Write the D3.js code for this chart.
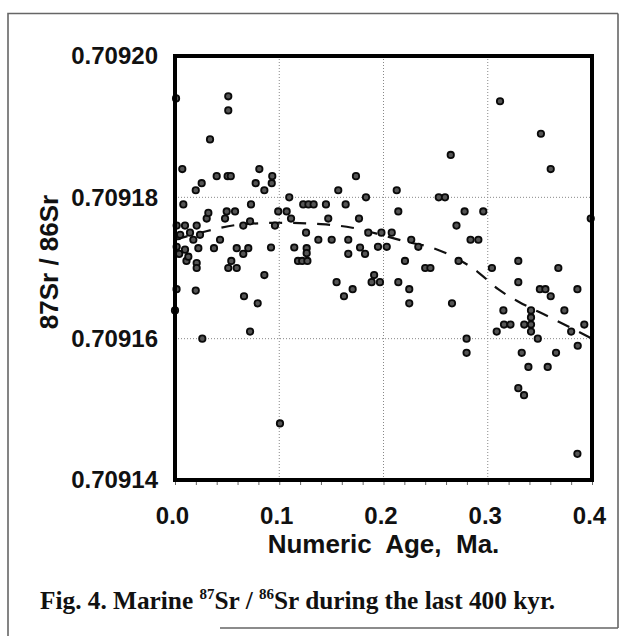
<!DOCTYPE html>
<html>
<head>
<meta charset="utf-8">
<script src="https://cdn.jsdelivr.net/npm/d3@7"></script>
<style>
  html, body { margin: 0; padding: 0; background: #fff; }
  svg { display: block; }
</style>
</head>
<body>
<svg id="chart" width="620" height="636"></svg>
<script>
// ---- data ----
const ages = [
  0.001, 0.000, 0.0015, 0.0016, 0.003, 0.0016, 0.004, 0.005, 0.007, 0.008,
  0.0096, 0.0096, 0.011, 0.0128, 0.0144, 0.0176, 0.0199, 0.0199, 0.0208, 0.0208,
  0.0208, 0.0224, 0.024, 0.0256, 0.0262,
  0.0304, 0.032, 0.0336, 0.0374, 0.040, 0.0432, 0.048, 0.0496, 0.0511, 0.0511,
  0.0505, 0.0535, 0.0511, 0.0540, 0.0576, 0.0592, 0.0592, 0.0655, 0.0655, 0.0662,
  0.0703, 0.072, 0.0729, 0.072, 0.0774, 0.0793, 0.0809, 0.0857, 0.0857, 0.0921,
  0.0928, 0.0933, 0.0959, 0.099, 0.1007,
  0.1071, 0.1096, 0.1113, 0.1144, 0.118, 0.122, 0.127, 0.1263, 0.1263, 0.1257,
  0.123, 0.128, 0.133, 0.1375, 0.1448, 0.147, 0.1503, 0.155, 0.1566, 0.1621,
  0.1637, 0.1662, 0.1662, 0.1704, 0.1736, 0.1765, 0.1775, 0.1823, 0.1832, 0.1854,
  0.1886, 0.191, 0.1966, 0.1947, 0.2031, 0.198,
  0.2079, 0.2127, 0.2142, 0.2142, 0.2206, 0.2247, 0.2247, 0.2266, 0.2334, 0.240,
  0.245, 0.253, 0.259, 0.2645, 0.2657, 0.270, 0.272, 0.2778, 0.2797, 0.2797,
  0.2835, 0.291, 0.2957,
  0.304, 0.3086, 0.3118, 0.315, 0.3156, 0.3218, 0.3293, 0.3293, 0.3293, 0.3326,
  0.3348, 0.335, 0.339, 0.3415, 0.3415, 0.3415, 0.3415, 0.348, 0.350, 0.3553,
  0.351, 0.3575, 0.3604, 0.3604, 0.3655, 0.3677, 0.3735, 0.380, 0.386, 0.3863,
  0.386, 0.3926, 0.3988
];
const ratios = [
  0.709194, 0.709164, 0.709167, 0.709176, 0.7091745, 0.709173, 0.709172, 0.7091747, 0.709184, 0.709179,
  0.709176, 0.7091726, 0.709171, 0.7091716, 0.709175, 0.709174, 0.709181, 0.7091668, 0.709176, 0.7091707,
  0.709170, 0.7091728, 0.7091747, 0.709182, 0.709160,
  0.709177, 0.7091778, 0.7091882, 0.7091728, 0.709183, 0.709174, 0.709177, 0.709178, 0.7091943, 0.7091923,
  0.709183, 0.709183, 0.709170, 0.709171, 0.709178, 0.709170, 0.7091728, 0.709176, 0.709172, 0.709166,
  0.7091728, 0.7091766, 0.709179, 0.709161, 0.709182, 0.709165, 0.709184, 0.709181, 0.709169, 0.7091729,
  0.709182, 0.709183, 0.709176, 0.709178, 0.709148,
  0.709178, 0.709180, 0.709177, 0.7091729, 0.709171, 0.709171, 0.709171, 0.7091728, 0.7091721, 0.709175,
  0.709179, 0.709179, 0.709179, 0.709174, 0.709179, 0.709177, 0.709174, 0.709168, 0.709181, 0.709166,
  0.709179, 0.709174, 0.709172, 0.709167, 0.709183, 0.709177, 0.7091729, 0.709172, 0.709180, 0.709175,
  0.709168, 0.709169, 0.709168, 0.709173, 0.709173, 0.709175,
  0.709175, 0.709181, 0.709178, 0.709168, 0.709171, 0.709167, 0.709165, 0.709174, 0.709173, 0.709170,
  0.709170, 0.709180, 0.709180, 0.709186, 0.709165, 0.709176, 0.709171, 0.709178, 0.709160, 0.709158,
  0.709174, 0.709174, 0.709178,
  0.709170, 0.709161, 0.7091936, 0.709164, 0.709162, 0.709162, 0.709171, 0.709168, 0.709153, 0.709158,
  0.709152, 0.709162, 0.709156, 0.709164, 0.709163, 0.709162, 0.709161, 0.709160, 0.709167, 0.709167,
  0.709189, 0.709156, 0.709184, 0.709166, 0.709158, 0.709170, 0.709164, 0.709161, 0.709167, 0.709159,
  0.7091437, 0.709162, 0.709177
];
// dashed trend curve, read at points along it
const trendAges   = [0.0, 0.03, 0.06, 0.10, 0.14, 0.17, 0.20, 0.22, 0.25, 0.29, 0.31, 0.33, 0.36, 0.40];
const trendRatios = [0.709174, 0.7091752, 0.7091761, 0.7091764, 0.7091762, 0.7091757, 0.7091746, 0.7091738,
                     0.7091727, 0.7091695, 0.7091670, 0.7091652, 0.7091630, 0.7091600];

const xTicks = [0.0, 0.1, 0.2, 0.3, 0.4];
const xMinorTicks = [0, 0.02, 0.04, 0.06, 0.08, 0.1, 0.12, 0.14, 0.16, 0.18, 0.2, 0.22, 0.24, 0.26, 0.28, 0.3, 0.32, 0.34, 0.36, 0.38, 0.4];
const yTicks = [0.70914, 0.70916, 0.70918, 0.70920];
const xGrid = [0.1, 0.2, 0.3];
const yGrid = [0.70916, 0.70918];

const xTitle = "Numeric  Age,  Ma.";
const yTitle = "87Sr / 86Sr";

// ---- drawing ----
const svg = d3.select("#chart");
const sans = "'Liberation Sans', Arial, sans-serif";
const serif = "'Liberation Serif', 'Times New Roman', serif";

svg.append("rect").attr("width", 620).attr("height", 636).attr("fill", "#fff");

// outer figure frame
svg.append("path")
  .attr("d", "M8,636 L8,13.5 L618,13.5 M618,13.5 L618,628 M220,628 L618,628")
  .attr("fill", "none").attr("stroke", "#666").attr("stroke-width", 1.6);

const x = d3.scaleLinear().domain([0, 0.4]).range([175, 592]);
const y = d3.scaleLinear().domain([0.70914, 0.70920]).range([480, 56]);

// gridlines
svg.append("g").selectAll("line").data(xGrid).join("line")
  .attr("x1", d => x(d)).attr("x2", d => x(d))
  .attr("y1", y(0.70920)).attr("y2", y(0.70914))
  .attr("stroke", "#888").attr("stroke-width", 1).attr("stroke-dasharray", "1,2");
svg.append("g").selectAll("line").data(yGrid).join("line")
  .attr("x1", x(0)).attr("x2", x(0.4))
  .attr("y1", d => y(d)).attr("y2", d => y(d))
  .attr("stroke", "#888").attr("stroke-width", 1).attr("stroke-dasharray", "1,2");

// minor ticks on bottom axis
const minor = svg.append("g").attr("transform", `translate(0,${y(0.70914)})`)
  .call(d3.axisBottom(x).tickValues(xMinorTicks).tickFormat("").tickSize(5).tickSizeOuter(0));
minor.select(".domain").remove();
minor.selectAll("line").attr("stroke", "#666").attr("stroke-width", 1);

// y axis labels
const ya = svg.append("g").attr("transform", `translate(${x(0)},0)`)
  .call(d3.axisLeft(y).tickValues(yTicks).tickFormat(d3.format(".5f")).tickSize(0).tickPadding(17));
ya.select(".domain").remove();
ya.selectAll("text").attr("font-family", sans).attr("font-size", 24).attr("font-weight", "bold").attr("fill", "#111");

// x axis labels
const xa = svg.append("g").attr("transform", `translate(0,${y(0.70914)})`)
  .call(d3.axisBottom(x).tickValues(xTicks).tickFormat(d3.format(".1f")).tickSize(0).tickPadding(27));
xa.select(".domain").remove();
xa.selectAll("text").attr("font-family", sans).attr("font-size", 24).attr("font-weight", "bold")
  .attr("fill", "#111").attr("dx", -3);

// trend line
svg.append("path")
  .datum(trendAges.map((a, i) => [a, trendRatios[i]]))
  .attr("d", d3.line().x(d => x(d[0])).y(d => y(d[1])).curve(d3.curveMonotoneX))
  .attr("fill", "none").attr("stroke", "#111").attr("stroke-width", 2.2)
  .attr("stroke-dasharray", "13,11");

// points
svg.append("g").selectAll("circle").data(ages.map((a, i) => [a, ratios[i]])).join("circle")
  .attr("cx", d => x(d[0])).attr("cy", d => y(d[1])).attr("r", 3.2)
  .attr("fill", "#555").attr("stroke", "#0a0a0a").attr("stroke-width", 1.8);

// plot frame
svg.append("rect")
  .attr("x", x(0)).attr("y", y(0.70920))
  .attr("width", x(0.4) - x(0)).attr("height", y(0.70914) - y(0.70920))
  .attr("fill", "none").attr("stroke", "#000").attr("stroke-width", 4);

// axis titles
svg.append("text").attr("x", (x(0) + x(0.4)) / 2).attr("y", 553)
  .attr("text-anchor", "middle").attr("font-family", sans).attr("font-size", 26)
  .attr("font-weight", "bold").attr("fill", "#111").style("white-space", "pre")
  .text(xTitle);

svg.append("text").attr("transform", "translate(58,262) rotate(-90)")
  .attr("text-anchor", "middle").attr("font-family", sans).attr("font-size", 26)
  .attr("font-weight", "bold").attr("fill", "#111")
  .text(yTitle);

// caption
const cap = svg.append("text").attr("x", 40).attr("y", 609)
  .attr("font-family", serif).attr("font-size", 25.3).attr("font-weight", "bold").attr("fill", "#111");
cap.append("tspan").text("Fig. 4. Marine ");
cap.append("tspan").attr("font-size", 15).attr("dy", -10).text("87");
cap.append("tspan").attr("dy", 10).text("Sr / ");
cap.append("tspan").attr("font-size", 15).attr("dy", -10).text("86");
cap.append("tspan").attr("dy", 10).text("Sr during the last 400 kyr.");
</script>
</body>
</html>
